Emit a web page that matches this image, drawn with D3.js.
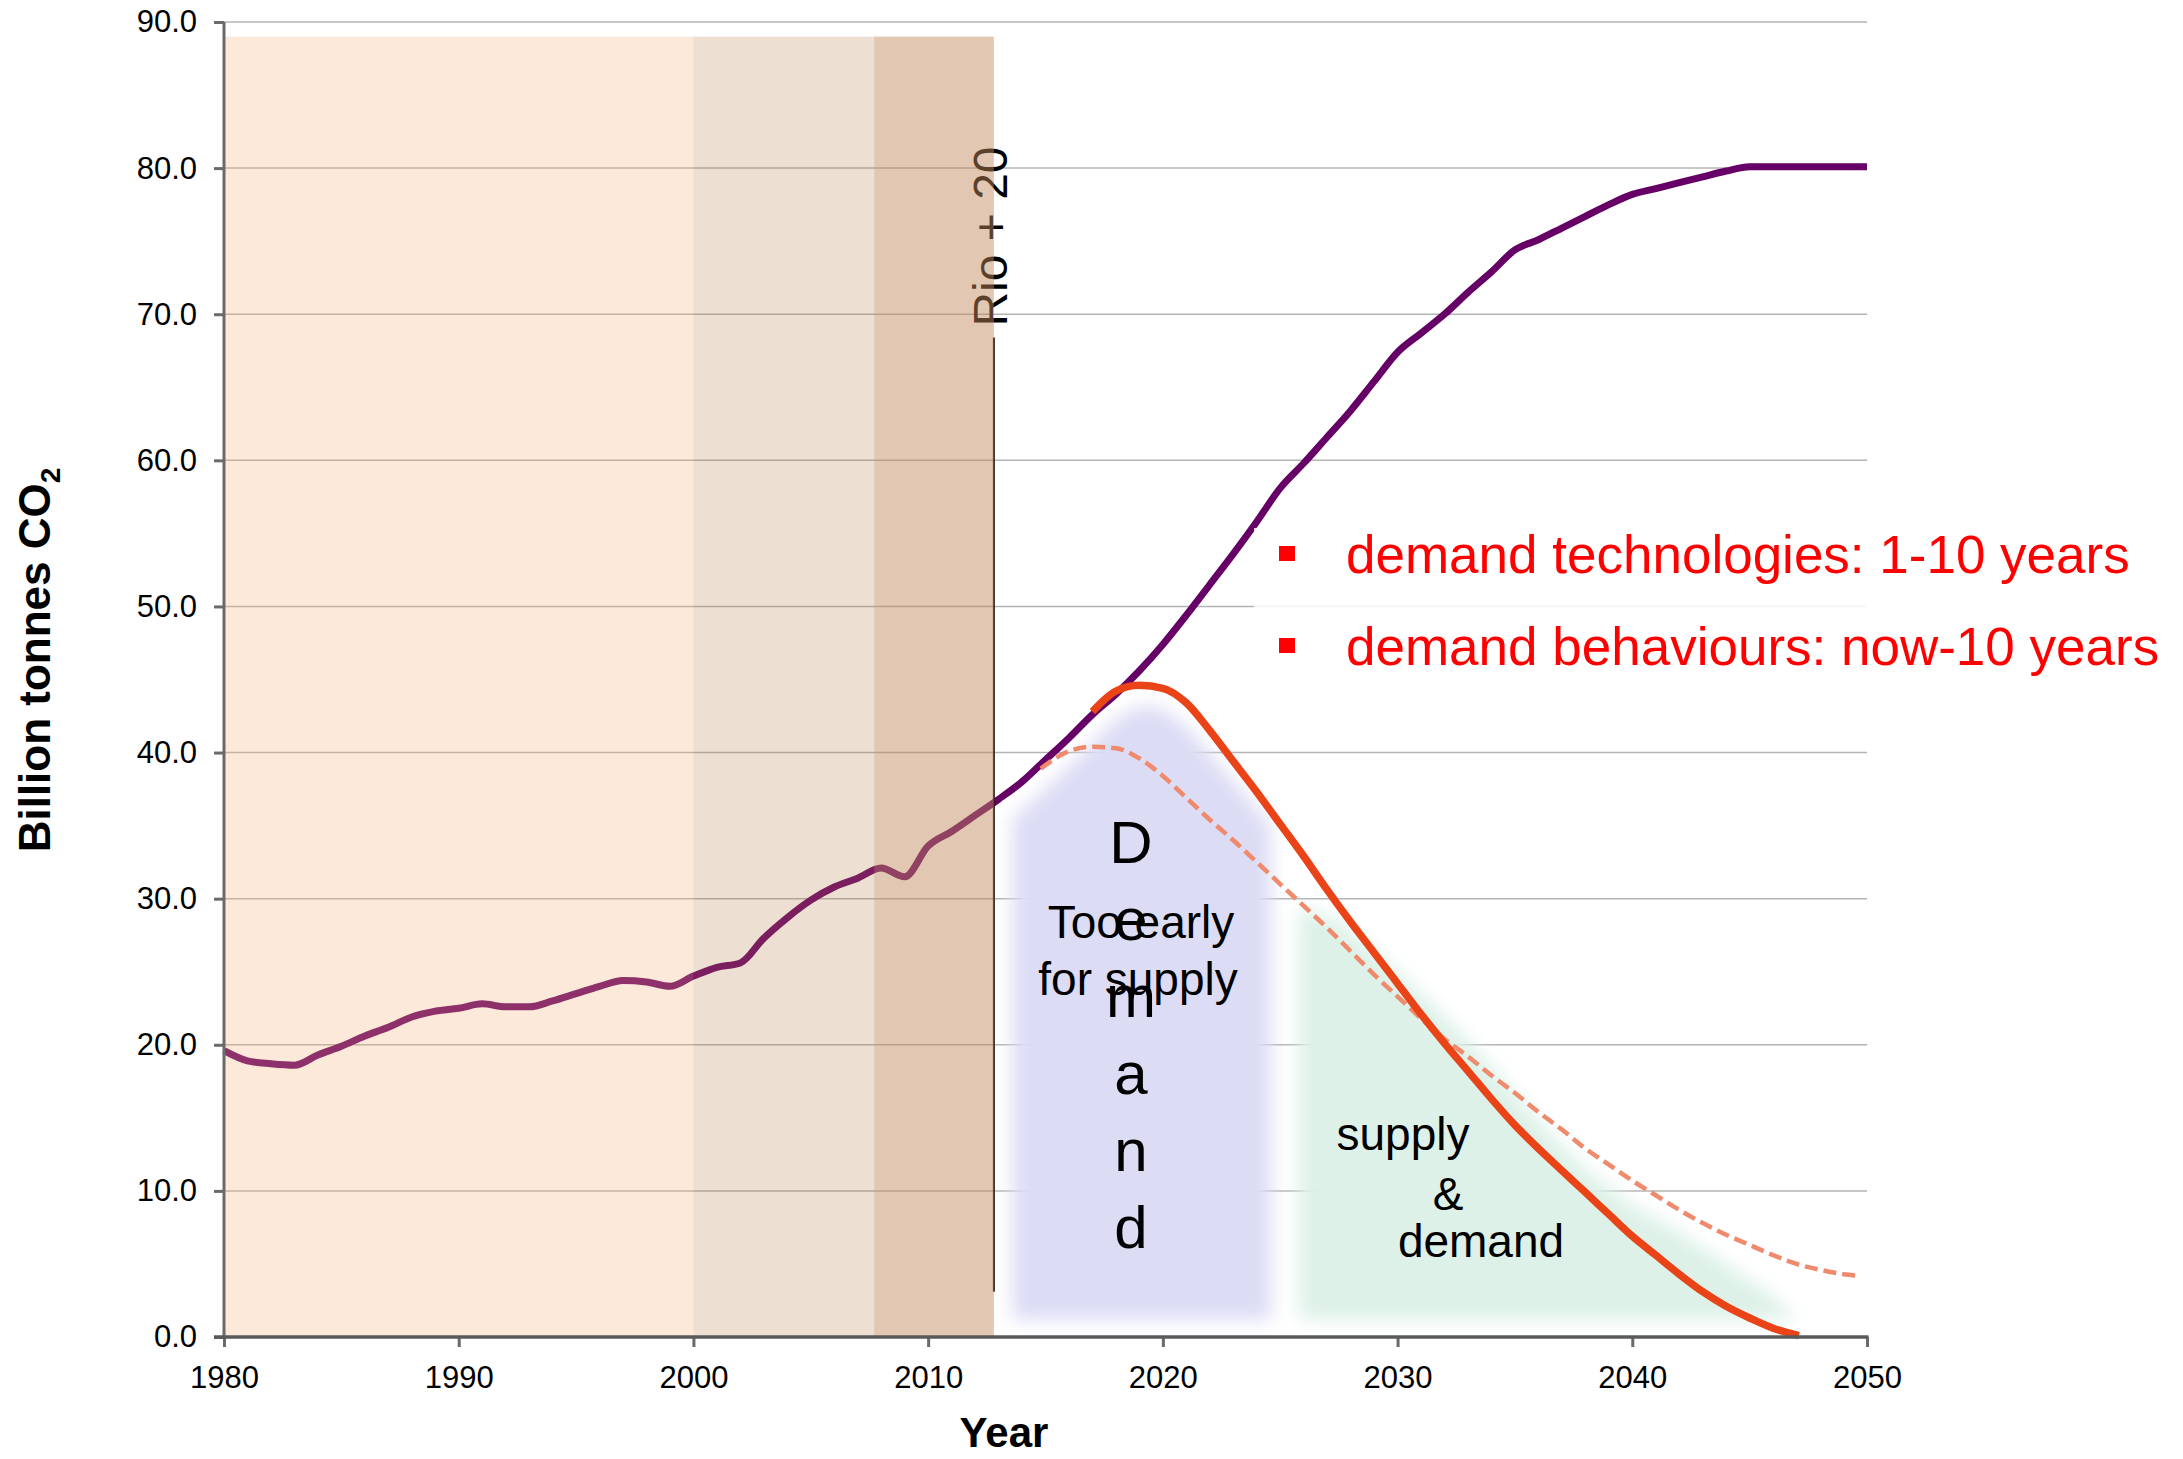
<!DOCTYPE html>
<html><head><meta charset="utf-8">
<script src="https://cdn.jsdelivr.net/npm/d3@7"></script>
<style>html,body{margin:0;padding:0;background:#fff;}svg{display:block;font-family:"Liberation Sans",Arial,sans-serif;}</style>
</head><body>
<script>
// ---------- data ----------
const baselineYears = [1980,1981,1982,1983,1984,1985,1986,1987,1988,1989,1990,1991,1992,1993,1994,1995,1996,1997,1998,1999,
  2000,2001,2002,2003,2004,2005,2006,2007,2008,2009,2010,2011,2012,2013,2014,2015,2016,2017,2018,2019,
  2020,2021,2022,2023,2024,2025,2026,2027,2028,2029,2030,2031,2032,2033,2034,2035,2036,2037,2038,2039,
  2040,2041,2042,2043,2044,2045,2046,2047,2048,2049,2050];
const baselineValues = [19.6,18.9,18.7,18.6,19.3,19.9,20.6,21.2,21.9,22.3,22.5,22.8,22.6,22.6,23.0,23.5,24.0,24.4,24.3,24.0,
  24.7,25.3,25.6,27.3,28.7,29.9,30.8,31.4,32.1,31.5,33.6,34.6,35.7,36.8,38.0,39.5,41.0,42.6,44.0,45.6,
  47.4,49.4,51.5,53.6,55.8,58.1,59.8,61.6,63.4,65.4,67.4,68.7,70.0,71.5,72.9,74.4,75.1,75.9,76.7,77.5,
  78.2,78.6,79.0,79.4,79.8,80.1,80.1,80.1,80.1,80.1,80.1];

const pathwayYears = [2017,2018,2019,2020,2021,2022,2023,2024,2025,2026,2027,2028,2029,2030,2031,2032,
  2033,2034,2035,2036,2037,2038,2039,2040,2041,2042,2043,2044,2045,2046,2047.1];
const pathwayValues = [42.8,44.2,44.6,44.4,43.4,41.5,39.4,37.3,35.1,32.9,30.6,28.4,26.3,24.2,22.1,20.1,
  18.2,16.3,14.5,12.9,11.4,9.9,8.4,6.9,5.6,4.3,3.1,2.1,1.3,0.6,0.1];

const altYears = [2014.8,2016,2017,2018,2019,2020,2021,2022,2023,2024,2025,2026,2027,2028,2029,2030,2031,2032,
  2033,2034,2035,2036,2037,2038,2039,2040,2041,2042,2043,2044,2045,2046,2047,2048,2049,2049.6];
const altValues = [38.9,40.1,40.4,40.3,39.6,38.4,36.9,35.4,34.0,32.5,31.0,29.5,28.0,26.4,24.8,23.3,21.8,20.4,
  19.2,17.9,16.7,15.4,14.2,12.9,11.8,10.7,9.7,8.7,7.8,7.0,6.3,5.6,5.0,4.6,4.3,4.2];

const periodStarts = [1980, 2000, 2007.7];
const periodEnds   = [2000, 2007.7, 2012.8];
const periodTop = 89;

const rioYear = 2012.8, rioFrom = 3.1, rioTo = 68.4;
const rioLabel = "Rio + 20";

const demandZoneYears  = [2013.6,2013.6,2015,2016.5,2018,2019,2020,2021,2022.5,2024.6,2024.6];
const demandZoneValues = [1.2,35.5,37.5,39.8,42.3,43.2,43.0,41.8,39.0,35.0,1.2];
const supplyZoneYears  = [2025.8,2025.8,2027.5,2030,2032,2034,2036,2038,2040,2042,2044,2046,2047];
const supplyZoneValues = [1.2,29.5,28.5,25.0,22.0,18.5,14.8,11.5,9.0,7.2,5.0,2.8,1.2];

const yTicks = [0,10,20,30,40,50,60,70,80,90];
const xTicks = [1980,1990,2000,2010,2020,2030,2040,2050];
const legendItems = ["demand technologies: 1-10 years", "demand behaviours: now-10 years"];
const demandLetters = ["D","e","m","a","n","d"];
const earlyLines = ["Too early", "for supply"];
const supplyLines = ["supply", "&", "demand"];

// ---------- layout ----------
const W = 2183, H = 1459;
const x = d3.scaleLinear().domain([1980, 2050]).range([224, 1867]);
const y = d3.scaleLinear().domain([0, 90]).range([1337, 22]);
const FONT = '"Liberation Sans",Arial,sans-serif';

const svg = d3.select("body").append("svg").attr("width", W).attr("height", H);
svg.append("rect").attr("width", W).attr("height", H).attr("fill", "#fff");

const defs = svg.append("defs");
const blur = defs.append("filter").attr("id","soft").attr("x","-20%").attr("y","-20%").attr("width","140%").attr("height","140%");
blur.append("feGaussianBlur").attr("stdDeviation", 9);

// gridlines
svg.append("g").selectAll("line").data(yTicks.filter(d => d > 0)).join("line")
  .attr("x1", x(1980)).attr("x2", x(2050))
  .attr("y1", d => y(d)).attr("y2", d => y(d))
  .attr("stroke", "#b4b4b4").attr("stroke-width", 1.5);

// soft zones
const zoneLine = d3.line().x(d => x(d[0])).y(d => y(d[1]));
svg.append("path").datum(d3.zip(demandZoneYears, demandZoneValues))
  .attr("d", d => zoneLine(d) + "Z").attr("fill", "#dcdcf5").attr("filter", "url(#soft)");
svg.append("path").datum(d3.zip(supplyZoneYears, supplyZoneValues))
  .attr("d", d => zoneLine(d) + "Z").attr("fill", "#ddf1e8").attr("filter", "url(#soft)");

// lines
const curve = d3.line().x(d => x(d[0])).y(d => y(d[1])).curve(d3.curveMonotoneX);
svg.append("path").datum(d3.zip(baselineYears, baselineValues)).attr("d", curve)
  .attr("fill", "none").attr("stroke", "#660066").attr("stroke-width", 7).attr("stroke-linejoin", "round");
svg.append("path").datum(d3.zip(altYears, altValues)).attr("d", curve)
  .attr("fill", "none").attr("stroke", "#f08a6c").attr("stroke-width", 4.5).attr("stroke-dasharray", "13,6");
svg.append("path").datum(d3.zip(pathwayYears, pathwayValues)).attr("d", curve)
  .attr("fill", "none").attr("stroke", "#ea4317").attr("stroke-width", 7.5);

// Rio marker
svg.append("line").attr("x1", x(rioYear)).attr("x2", x(rioYear))
  .attr("y1", y(rioFrom)).attr("y2", y(rioTo)).attr("stroke", "#2a1a10").attr("stroke-width", 2);
svg.append("text").attr("transform", `translate(${x(rioYear) + 13},${y(rioTo) - 11}) rotate(-90)`)
  .attr("font-size", 48).attr("fill", "#000").attr("font-family", FONT).text(rioLabel);

// period bands (translucent overlay)
const bandColors = ["#f7af74", "#b97b4a", "#c28a5b"];
const bandOpacity = [0.275, 0.243, 0.47];
svg.append("g").selectAll("rect").data(d3.range(periodStarts.length)).join("rect")
  .attr("x", i => x(periodStarts[i])).attr("width", i => x(periodEnds[i]) - x(periodStarts[i]))
  .attr("y", y(periodTop)).attr("height", y(0) - y(periodTop))
  .attr("fill", i => bandColors[i]).attr("fill-opacity", i => bandOpacity[i]);

// legend box
svg.append("rect").attr("x", 1254).attr("y", 528).attr("width", W - 1254).attr("height", 165)
  .attr("fill", "#fff").attr("fill-opacity", 0.82);
const lg = svg.append("g").attr("font-family", FONT).attr("fill", "#ff0000");
legendItems.forEach((t, i) => {
  const by = 573 + i * 92;
  lg.append("rect").attr("x", 1279).attr("y", by - 27).attr("width", 16).attr("height", 15).attr("fill", "#ff0000");
  lg.append("text").attr("x", 1346).attr("y", by).attr("font-size", 53).text(t);
});

// zone labels
const zl = svg.append("g").attr("font-family", FONT).attr("fill", "#000").attr("text-anchor", "middle");
demandLetters.forEach((t, i) => {
  zl.append("text").attr("x", 1131).attr("y", 863 + i * 77).attr("font-size", 60).text(t);
});
zl.append("text").attr("x", 1141).attr("y", 938).attr("font-size", 46).text(earlyLines[0]);
zl.append("text").attr("x", 1138).attr("y", 995).attr("font-size", 46).text(earlyLines[1]);
zl.append("text").attr("x", 1403).attr("y", 1150).attr("font-size", 46).text(supplyLines[0]);
zl.append("text").attr("x", 1448).attr("y", 1210).attr("font-size", 46).text(supplyLines[1]);
zl.append("text").attr("x", 1481).attr("y", 1257).attr("font-size", 46).text(supplyLines[2]);

// axes
const axisColor = "#6a6a6a";
const yAxis = svg.append("g").attr("transform", `translate(${x(1980)},0)`)
  .call(d3.axisLeft(y).tickValues(yTicks).tickFormat(d3.format(".1f")).tickSize(10).tickSizeOuter(0).tickPadding(17));
const xAxis = svg.append("g").attr("transform", `translate(0,${y(0)})`)
  .call(d3.axisBottom(x).tickValues(xTicks).tickFormat(d3.format("d")).tickSize(10).tickSizeOuter(0).tickPadding(19));
[yAxis, xAxis].forEach(g => {
  g.select(".domain").remove();
  g.selectAll(".tick line").attr("stroke", axisColor).attr("stroke-width", 3);
  g.selectAll(".tick text").attr("font-size", 31).attr("font-family", FONT).attr("fill", "#000");
});
svg.append("line").attr("x1", x(1980)).attr("x2", x(1980)).attr("y1", y(90)).attr("y2", y(0))
  .attr("stroke", axisColor).attr("stroke-width", 3);
svg.append("line").attr("x1", x(1980) - 10).attr("x2", x(2050) + 1.5).attr("y1", y(0)).attr("y2", y(0))
  .attr("stroke", "#5a5a5a").attr("stroke-width", 3.5);

// axis titles
svg.append("text").attr("x", 1004).attr("y", 1447).attr("text-anchor", "middle")
  .attr("font-family", FONT).attr("font-weight", "bold").attr("font-size", 42).text("Year");
const yt = svg.append("text").attr("transform", `translate(50,660) rotate(-90)`).attr("text-anchor", "middle")
  .attr("font-family", FONT).attr("font-weight", "bold").attr("font-size", 44);
yt.append("tspan").text("Billion tonnes CO");
yt.append("tspan").attr("font-size", 28).attr("dy", 10).text("2");
</script>
</body></html>
